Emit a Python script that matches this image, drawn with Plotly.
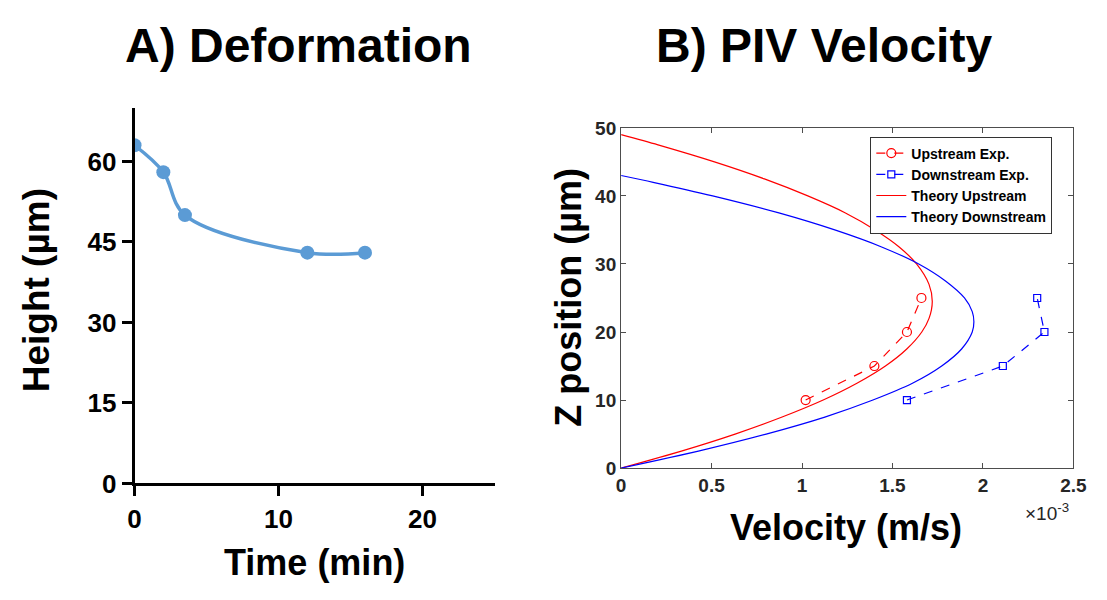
import plotly.graph_objects as go

W, H = 1107, 600

# ---- Panel A data ----
time_min = [0, 2, 3.5, 12, 16]
height_um = [63, 58, 50, 43, 43]

# ---- Panel B data (velocity in units of 1e-3 m/s, z in µm) ----
up_exp_v = [1.02, 1.40, 1.58, 1.66]
up_exp_z = [10, 15, 20, 25]
down_exp_v = [1.58, 2.11, 2.34, 2.30]
down_exp_z = [10, 15, 20, 25]

theory_up_z = [0, 2.5, 5, 7.5, 10, 12.5, 15, 17.5, 20, 22, 24.5, 27, 30, 32.5, 35, 37.5, 40, 42.5, 45, 47.5, 49]
theory_up_v = [0, 0.333, 0.630, 0.890, 1.117, 1.306, 1.461, 1.579, 1.662, 1.702, 1.72, 1.702, 1.633, 1.537, 1.404, 1.240, 1.032, 0.792, 0.516, 0.204, 0]
theory_down_z = [0, 2.5, 5, 7.5, 10, 12.5, 15, 17.5, 20, 21.5, 23, 25, 27.5, 30, 32.5, 35, 37.5, 40, 42, 43]
theory_down_v = [0, 0.427, 0.802, 1.126, 1.392, 1.613, 1.772, 1.882, 1.941, 1.95, 1.941, 1.898, 1.793, 1.645, 1.440, 1.181, 0.872, 0.506, 0.177, 0]

FONT = "Liberation Sans, Arial, sans-serif"
BLUE_A = "#5B9BD5"
AXC = "#4d4d4d"

fig = go.Figure()

fig.add_trace(go.Scatter(
    x=time_min, y=height_um, mode="lines+markers",
    line=dict(color=BLUE_A, width=3.5, shape="spline", smoothing=1.0),
    marker=dict(color=BLUE_A, size=14),
    xaxis="x", yaxis="y", showlegend=False))

fig.add_trace(go.Scatter(
    x=up_exp_v, y=up_exp_z, mode="lines+markers", name="Upstream Exp.",
    line=dict(color="#ff0000", width=1.2, dash="dash"),
    marker=dict(symbol="circle-open", size=9, color="#ff0000", line=dict(width=1.2)),
    xaxis="x2", yaxis="y2"))
fig.add_trace(go.Scatter(
    x=down_exp_v, y=down_exp_z, mode="lines+markers", name="Downstream Exp.",
    line=dict(color="#0000ff", width=1.2, dash="dash"),
    marker=dict(symbol="square-open", size=7, color="#0000ff", line=dict(width=1.2)),
    xaxis="x2", yaxis="y2"))
fig.add_trace(go.Scatter(
    x=theory_up_v, y=theory_up_z, mode="lines", name="Theory Upstream",
    line=dict(color="#ff0000", width=1.2, shape="spline", smoothing=0.8),
    xaxis="x2", yaxis="y2"))
fig.add_trace(go.Scatter(
    x=theory_down_v, y=theory_down_z, mode="lines", name="Theory Downstream",
    line=dict(color="#0000ff", width=1.2, shape="spline", smoothing=0.8),
    xaxis="x2", yaxis="y2"))

def px_x(p):
    return p / W

def px_y(p):
    return 1 - p / H

fig.update_layout(
    width=W, height=H,
    margin=dict(l=0, r=0, t=0, b=0),
    paper_bgcolor="white", plot_bgcolor="white",
    font=dict(family=FONT, color="black"),
    xaxis=dict(domain=[px_x(130), px_x(497)], range=[0, 25], tickvals=[0, 10, 20],
               showgrid=False, zeroline=False, showline=True, linecolor="black", linewidth=2.8,
               ticks="outside", ticklen=10, tickwidth=2.8, tickcolor="black",
               tickfont=dict(family=FONT, size=26, weight="bold", color="black"),
               anchor="y"),
    yaxis=dict(domain=[px_y(494), px_y(102)], range=[0, 70], tickvals=[0, 15, 30, 45, 60],
               showgrid=False, zeroline=False, showline=True, linecolor="black", linewidth=2.8,
               ticks="outside", ticklen=10, tickwidth=2.8, tickcolor="black",
               tickfont=dict(family=FONT, size=26, weight="bold", color="black"),
               anchor="x"),
    xaxis2=dict(domain=[px_x(626), px_x(1087)], range=[0, 2.5], dtick=0.5, tick0=0,
                showgrid=False, zeroline=False, showline=True, linecolor=AXC, linewidth=1.2,
                mirror="ticks", ticks="inside", ticklen=5, tickwidth=1, tickcolor=AXC,
                tickfont=dict(family=FONT, size=19, weight="bold", color="#262626"),
                anchor="y2"),
    yaxis2=dict(domain=[px_y(478), px_y(123)], range=[0, 50], dtick=10, tick0=0,
                showgrid=False, zeroline=False, showline=True, linecolor=AXC, linewidth=1.2,
                mirror="ticks", ticks="inside", ticklen=5, tickwidth=1, tickcolor=AXC,
                tickfont=dict(family=FONT, size=19, weight="bold", color="#262626"),
                anchor="x2"),
    legend=dict(x=px_x(880), y=px_y(132), xanchor="left", yanchor="top",
                bgcolor="white", bordercolor="#333333", borderwidth=1,
                font=dict(family=FONT, size=14, weight="bold", color="black"),
                tracegroupgap=0),
)

ann = [
    dict(text="<b>A) Deformation</b>", x=px_x(297), y=px_y(37), size=48),
    dict(text="<b>B) PIV Velocity</b>", x=px_x(833), y=px_y(37), size=48),
    dict(text="<b>Time (min)</b>", x=px_x(313), y=px_y(577), size=36),
    dict(text="<b>Velocity (m/s)</b>", x=px_x(855), y=px_y(540), size=36),
]
for a in ann:
    fig.add_annotation(text=a["text"], x=a["x"], y=a["y"], xref="paper", yref="paper",
                       showarrow=False, xanchor="center", yanchor="middle",
                       font=dict(family=FONT, size=a["size"], color="black"))

fig.add_annotation(text="<b>Height (µm)</b>", x=px_x(30), y=px_y(292), xref="paper", yref="paper",
                   showarrow=False, textangle=-90, xanchor="center", yanchor="middle",
                   font=dict(family=FONT, size=37, color="black"))
fig.add_annotation(text="<b>Z position (µm)</b>", x=px_x(572), y=px_y(300), xref="paper", yref="paper",
                   showarrow=False, textangle=-90, xanchor="center", yanchor="middle",
                   font=dict(family=FONT, size=36, color="black"))
fig.add_annotation(text="×10<sup>-3</sup>", x=px_x(1060), y=px_y(524), xref="paper", yref="paper",
                   showarrow=False, xanchor="center", yanchor="middle",
                   font=dict(family=FONT, size=19, color="#262626"))

fig.write_html("out.html")
